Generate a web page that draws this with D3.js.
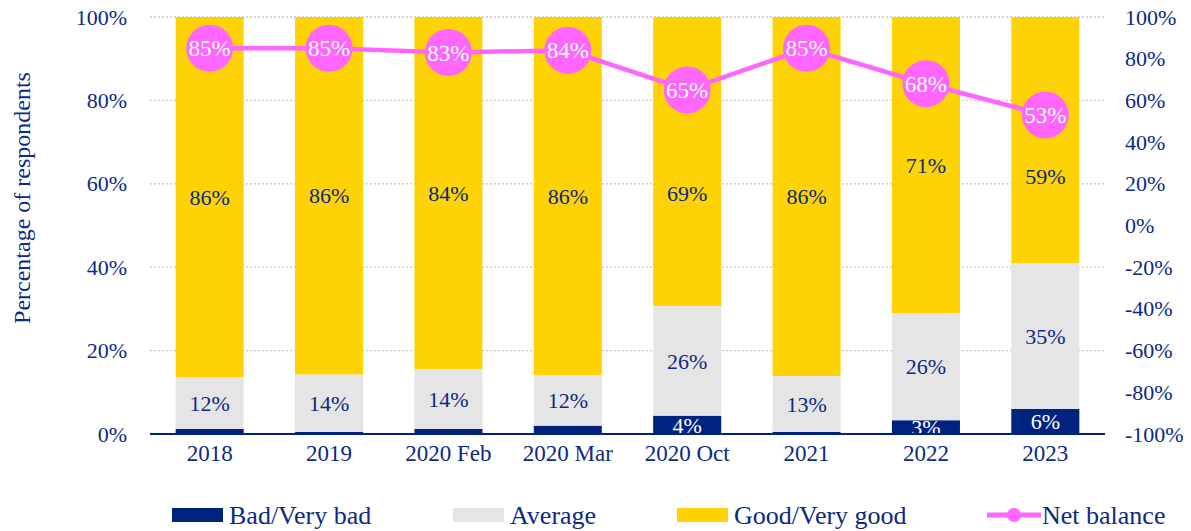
<!DOCTYPE html>
<html>
<head>
<meta charset="utf-8">
<script src="https://cdn.jsdelivr.net/npm/d3@7"></script>
<style>
  body { margin: 0; background: #fff; }
  svg text { font-family: "Liberation Serif", "Times New Roman", serif; fill: #0b2a84; }
</style>
</head>
<body>
<div id="chart"></div>
<script>
// data
const categories = ["2018", "2019", "2020 Feb", "2020 Mar", "2020 Oct", "2021", "2022", "2023"];
const badValues = [1.2, 0.5, 1.2, 2.0, 4.4, 0.5, 3.3, 6.0];
const averageValues = [12.4, 13.8, 14.4, 12.1, 26.3, 13.4, 25.7, 35.0];
const goodValues = [86.4, 85.7, 84.4, 85.9, 69.3, 86.1, 71.0, 59.0];
const netBalance = [85, 85, 83, 84, 65, 85, 68, 53];
const leftTicks = [0, 20, 40, 60, 80, 100];
const rightTicks = [-100, -80, -60, -40, -20, 0, 20, 40, 60, 80, 100];

const series = [
  { key: "Bad/Very bad", values: badValues, color: "#00237f", text: "#ffffff", minLabel: 3 },
  { key: "Average", values: averageValues, color: "#e5e5e5", text: "#0b2a84", minLabel: 0 },
  { key: "Good/Very good", values: goodValues, color: "#fdd305", text: "#0b2a84", minLabel: 0 }
];
const pink = "#ff66ff";

(() => {
  const width = 1191, height = 531;
  const margin = { left: 150, right: 86, top: 17, bottom: 97 };
  // a few labels were moved down in the original to keep clear of the line
  const labelNudge = { "2020 Oct|Good/Very good": 32, "2023|Good/Very good": 36 };

  const svg = d3.select("#chart").append("svg")
    .attr("width", width).attr("height", height);

  const x = d3.scaleBand().domain(categories)
    .range([margin.left, width - margin.right]).paddingInner(0.43).paddingOuter(0.215);
  const y = d3.scaleLinear().domain([0, 100]).range([height - margin.bottom, margin.top]);
  const y2 = d3.scaleLinear().domain([-100, 100]).range([height - margin.bottom, margin.top]);

  // dotted grid
  svg.append("g").selectAll("line").data(leftTicks.filter(d => d > 0)).enter().append("line")
    .attr("x1", margin.left).attr("x2", width - margin.right)
    .attr("y1", d => y(d)).attr("y2", d => y(d))
    .attr("stroke", "#c8c8c8").attr("stroke-width", 1.3).attr("stroke-dasharray", "2,2");

  // stacked bars
  const stacked = categories.map((c, i) => {
    let base = 0;
    return series.map(s => {
      const seg = { cat: c, s: s, y0: base, y1: base + s.values[i], v: s.values[i] };
      base += s.values[i];
      return seg;
    });
  }).flat();

  svg.append("g").selectAll("rect").data(stacked).enter().append("rect")
    .attr("x", d => x(d.cat)).attr("width", x.bandwidth())
    .attr("y", d => y(Math.min(d.y1, 100))).attr("height", d => y(d.y0) - y(Math.min(d.y1, 100)))
    .attr("fill", d => d.s.color);

  svg.append("g").selectAll("text").data(stacked.filter(d => d.v >= d.s.minLabel && d.v > 1)).enter().append("text")
    .attr("x", d => x(d.cat) + x.bandwidth() / 2)
    .attr("y", d => y((d.y0 + Math.min(d.y1, 100)) / 2) + (labelNudge[d.cat + "|" + d.s.key] || 0))
    .attr("dy", "0.35em").attr("text-anchor", "middle")
    .style("font-size", "22px").style("fill", d => d.s.text)
    .text(d => Math.round(d.v) + "%");

  // base axis line
  svg.append("line")
    .attr("x1", margin.left).attr("x2", width - margin.right)
    .attr("y1", y(0)).attr("y2", y(0))
    .attr("stroke", "#00237f").attr("stroke-width", 2);

  // left axis
  const left = svg.append("g").attr("transform", `translate(${margin.left},0)`)
    .call(d3.axisLeft(y).tickValues(leftTicks).tickFormat(d => d + "%").tickSize(0).tickPadding(23));
  left.select(".domain").remove();
  left.selectAll("text").style("font-size", "22px").style("fill", "#0b2a84").style("font-family", "Liberation Serif");

  // right axis
  const right = svg.append("g").attr("transform", `translate(${width - margin.right},0)`)
    .call(d3.axisRight(y2).tickValues(rightTicks).tickFormat(d => d + "%").tickSize(0).tickPadding(20));
  right.select(".domain").remove();
  right.selectAll("text").style("font-size", "22px").style("fill", "#0b2a84").style("font-family", "Liberation Serif");

  // category axis
  const bottom = svg.append("g").attr("transform", `translate(0,${y(0)})`)
    .call(d3.axisBottom(x).tickSize(0).tickPadding(11));
  bottom.select(".domain").remove();
  bottom.selectAll("text").style("font-size", "23px").style("fill", "#0b2a84").style("font-family", "Liberation Serif");

  // y title
  svg.append("text")
    .attr("transform", `translate(30,198) rotate(-90)`)
    .attr("text-anchor", "middle").style("font-size", "24px")
    .text("Percentage of respondents");

  // net balance line
  const line = d3.line().x((d, i) => x(categories[i]) + x.bandwidth() / 2).y(d => y2(d));
  svg.append("path").datum(netBalance)
    .attr("d", line).attr("fill", "none").attr("stroke", pink).attr("stroke-width", 4.5);

  const pts = svg.append("g").selectAll("g").data(netBalance).enter().append("g")
    .attr("transform", (d, i) => `translate(${x(categories[i]) + x.bandwidth() / 2},${y2(d)})`);
  pts.append("circle").attr("r", 23.5).attr("fill", pink);
  pts.append("text").attr("text-anchor", "middle").attr("dy", "0.35em")
    .style("font-size", "23px").style("fill", "#ffffff")
    .text(d => d + "%");

  // legend
  const legendItems = [
    { key: "Bad/Very bad", color: "#00237f", x: 172, type: "rect" },
    { key: "Average", color: "#e5e5e5", x: 453, type: "rect" },
    { key: "Good/Very good", color: "#fdd305", x: 677, type: "rect" },
    { key: "Net balance", color: pink, x: 987, type: "line" }
  ];
  const legend = svg.append("g").selectAll("g").data(legendItems).enter().append("g")
    .attr("transform", d => `translate(${d.x},515)`);
  legend.filter(d => d.type === "rect").append("rect")
    .attr("x", 0).attr("y", -7).attr("width", 51).attr("height", 14).attr("fill", d => d.color);
  legend.filter(d => d.type === "line").append("line")
    .attr("x1", 0).attr("x2", 54).attr("y1", 0).attr("y2", 0)
    .attr("stroke", pink).attr("stroke-width", 5);
  legend.filter(d => d.type === "line").append("circle")
    .attr("cx", 27).attr("r", 7).attr("fill", pink);
  legend.append("text").attr("x", d => d.type === "line" ? 55 : 57).attr("dy", "0.35em")
    .style("font-size", "26px")
    .text(d => d.key);
})();
</script>
</body>
</html>
